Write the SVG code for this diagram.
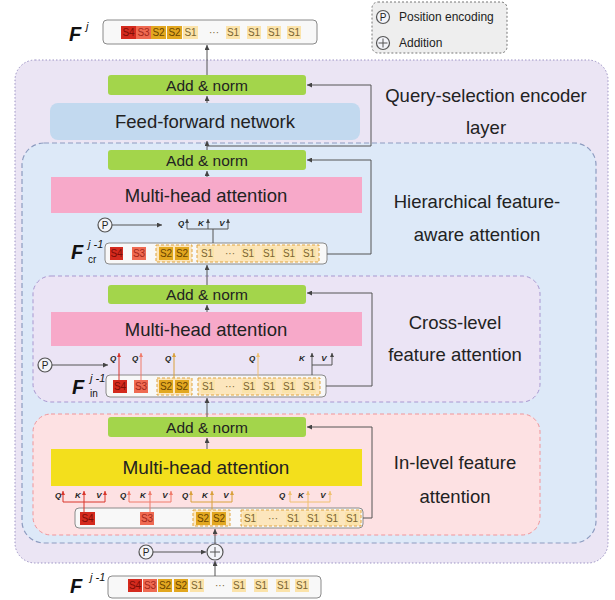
<svg xmlns="http://www.w3.org/2000/svg" width="615" height="600" viewBox="0 0 615 600">
<defs>
<style>
text{font-family:"Liberation Sans",Arial,sans-serif;fill:#222}
.big{font-size:18.5px;text-anchor:middle}
.an{font-size:15.5px;text-anchor:middle}
.mha{font-size:18.5px;text-anchor:middle}
.leg{font-size:12px}
.c{font-size:10px;text-anchor:middle}
.q{font-size:8px;font-style:italic;font-weight:bold;text-anchor:middle}
.F{font-size:20px;font-style:italic;font-weight:bold;fill:#111}
.sup{font-size:11px;font-style:italic;fill:#111}
.sub{font-size:10px;fill:#111}
.pc{font-size:10px;text-anchor:middle}
.row{fill:#f8f8f8;stroke:#8a8a8a;stroke-width:1}
.s4{fill:#d42a1e}.s3{fill:#ef6a52}.s2{fill:#e2a720}.s1{fill:#fbe3aa}
.t4{fill:#7d0d06}.t3{fill:#a3281a}.t2{fill:#6a4500}.t1{fill:#7a6530}
.grp{fill:#fce6bd;stroke:#e0a43e;stroke-width:1;stroke-dasharray:3 2}
.an-box{fill:#a3d54b}
.ln{fill:none;stroke:#555;stroke-width:1}
.circ{fill:#f3f4f9;stroke:#555;stroke-width:1.2}
</style>
<marker id="ah" viewBox="0 0 6 6" refX="6" refY="3" markerWidth="5" markerHeight="5" orient="auto" markerUnits="userSpaceOnUse"><path d="M0,0 L6,3 L0,6 z" fill="#444"/></marker>
<marker id="ahr" viewBox="0 0 6 6" refX="6" refY="3" markerWidth="4" markerHeight="4" orient="auto" markerUnits="userSpaceOnUse"><path d="M0,0 L6,3 L0,6 z" fill="#d9342b"/></marker>
<marker id="ahs" viewBox="0 0 6 6" refX="6" refY="3" markerWidth="4" markerHeight="4" orient="auto" markerUnits="userSpaceOnUse"><path d="M0,0 L6,3 L0,6 z" fill="#f07b6b"/></marker>
<marker id="aho" viewBox="0 0 6 6" refX="6" refY="3" markerWidth="4" markerHeight="4" orient="auto" markerUnits="userSpaceOnUse"><path d="M0,0 L6,3 L0,6 z" fill="#d9a03a"/></marker>
<marker id="ahl" viewBox="0 0 6 6" refX="6" refY="3" markerWidth="4" markerHeight="4" orient="auto" markerUnits="userSpaceOnUse"><path d="M0,0 L6,3 L0,6 z" fill="#f0c070"/></marker>
<marker id="ahk" viewBox="0 0 6 6" refX="6" refY="3" markerWidth="4" markerHeight="4" orient="auto" markerUnits="userSpaceOnUse"><path d="M0,0 L6,3 L0,6 z" fill="#444"/></marker>
</defs>

<g id="regions">
<rect x="15" y="60" width="593" height="503" rx="20" fill="#ebe5f4" stroke="#9c93c4" stroke-width="1" stroke-dasharray="1.5 2"/>
<rect x="22" y="143" width="574" height="400" rx="22" fill="#dde9f8" stroke="#8d9cc0" stroke-width="1.2" stroke-dasharray="5 3"/>
<rect x="33" y="276" width="507" height="126" rx="18" fill="#ebe4f5" stroke="#a897d0" stroke-width="1" stroke-dasharray="4 3"/>
<rect x="33" y="414" width="507" height="121" rx="18" fill="#fde1e3" stroke="#f0959a" stroke-width="1" stroke-dasharray="4 3"/>
<text class="big" x="486" y="102">Query-selection encoder</text>
<text class="big" x="486" y="134">layer</text>
<text class="big" x="477" y="208">Hierarchical feature-</text>
<text class="big" x="477" y="241">aware attention</text>
<text class="big" x="455" y="329">Cross-level</text>
<text class="big" x="455" y="361">feature attention</text>
<text class="big" x="455" y="469">In-level feature</text>
<text class="big" x="455" y="503">attention</text>
</g>

<g id="legend">
<rect x="372" y="2" width="135" height="51" rx="6" fill="#eeeeee" stroke="#777" stroke-width="1" stroke-dasharray="2 2"/>
<circle class="circ" cx="383" cy="17" r="6.5"/>
<text class="pc" x="383" y="20.5">P</text>
<text class="leg" x="399" y="21">Position encoding</text>
<circle class="circ" cx="383" cy="43" r="6.5"/>
<path class="ln" d="M378.5,43 H387.5 M383,38.5 V47.5" stroke="#333"/>
<text class="leg" x="399" y="47">Addition</text>
</g>

<g id="Fj">
<text class="F" x="69" y="41">F</text><text class="sup" x="86" y="30">j</text>
<rect class="row" x="103" y="20" width="214" height="24" rx="4"/>
<rect class="s4" x="121" y="26" width="15" height="13"/><text class="c t4" x="128.5" y="36">S4</text>
<rect class="s3" x="136" y="26" width="15" height="13"/><text class="c t3" x="143.5" y="36">S3</text>
<rect class="s2" x="151" y="26" width="15" height="13"/><text class="c t2" x="158.5" y="36">S2</text>
<rect class="s2" x="167" y="26" width="15" height="13"/><text class="c t2" x="174.5" y="36">S2</text>
<rect class="s1" x="183" y="26" width="15" height="13"/><text class="c t1" x="190.5" y="36">S1</text>
<text class="c t1" x="214" y="36">···</text>
<rect class="s1" x="226" y="26" width="14" height="13"/><text class="c t1" x="233" y="36">S1</text>
<rect class="s1" x="247" y="26" width="14" height="13"/><text class="c t1" x="254" y="36">S1</text>
<rect class="s1" x="267" y="26" width="14" height="13"/><text class="c t1" x="274" y="36">S1</text>
<rect class="s1" x="287" y="26" width="14" height="13"/><text class="c t1" x="294" y="36">S1</text>
</g>

<g id="addnorm-top"><rect class="an-box" x="108" y="75" width="198" height="20" rx="3"/><text class="an" x="207" y="90.5">Add &amp; norm</text></g>
<g id="ffn"><rect x="50" y="103" width="310" height="37" rx="8" fill="#c2d9ef"/><text class="mha" x="205" y="128">Feed-forward network</text></g>

<g id="addnorm-hier"><rect class="an-box" x="108" y="150" width="198" height="20" rx="3"/><text class="an" x="207" y="165.5">Add &amp; norm</text></g>
<g id="mha-hier"><rect x="51" y="177" width="311" height="36" fill="#f7a9c9"/><text class="mha" x="206" y="202">Multi-head attention</text></g>

<g id="Fcr">
<text class="F" x="71" y="259">F</text><text class="sup" x="88" y="248">j -1</text><text class="sub" x="88" y="263">cr</text>
<rect class="row" x="105" y="243" width="222" height="21" rx="4"/>
<rect class="s4" x="110" y="247" width="13" height="13"/><text class="c t4" x="116.5" y="257">S4</text>
<rect class="s3" x="132" y="247" width="14" height="13"/><text class="c t3" x="139" y="257">S3</text>
<rect class="grp" x="156" y="245" width="36" height="17"/>
<rect class="s2" x="159" y="247" width="14" height="13"/><text class="c t2" x="166" y="257">S2</text>
<rect class="s2" x="175" y="247" width="14" height="13"/><text class="c t2" x="182" y="257">S2</text>
<rect class="grp" x="197" y="245" width="122" height="17"/>
<rect class="s1" x="200" y="247" width="14" height="13"/><text class="c t1" x="207" y="257">S1</text>
<text class="c t1" x="230" y="257">···</text>
<rect class="s1" x="241" y="247" width="14" height="13"/><text class="c t1" x="248" y="257">S1</text>
<rect class="s1" x="262" y="247" width="14" height="13"/><text class="c t1" x="269" y="257">S1</text>
<rect class="s1" x="282" y="247" width="14" height="13"/><text class="c t1" x="289" y="257">S1</text>
<rect class="s1" x="302" y="247" width="14" height="13"/><text class="c t1" x="309" y="257">S1</text>
</g>
<g id="P-hier"><circle class="circ" cx="105" cy="225" r="7"/><text class="pc" x="105" y="228.5">P</text></g>

<g id="addnorm-cross"><rect class="an-box" x="108" y="285" width="198" height="19" rx="3"/><text class="an" x="207" y="300">Add &amp; norm</text></g>
<g id="mha-cross"><rect x="51" y="312" width="311" height="34" fill="#f7a9c9"/><text class="mha" x="206" y="336">Multi-head attention</text></g>

<g id="Fin">
<text class="F" x="72" y="394">F</text><text class="sup" x="90" y="382">j -1</text><text class="sub" x="90" y="397">in</text>
<rect class="row" x="106" y="375" width="220" height="22" rx="4"/>
<rect class="s4" x="113" y="380" width="14" height="13"/><text class="c t4" x="120" y="390">S4</text>
<rect class="s3" x="134" y="380" width="14" height="13"/><text class="c t3" x="141" y="390">S3</text>
<rect class="grp" x="157" y="378" width="35" height="17"/>
<rect class="s2" x="159" y="380" width="14" height="13"/><text class="c t2" x="166" y="390">S2</text>
<rect class="s2" x="175" y="380" width="14" height="13"/><text class="c t2" x="182" y="390">S2</text>
<rect class="grp" x="198" y="378" width="122" height="17"/>
<rect class="s1" x="201" y="380" width="14" height="13"/><text class="c t1" x="208" y="390">S1</text>
<text class="c t1" x="230" y="390">···</text>
<rect class="s1" x="242" y="380" width="14" height="13"/><text class="c t1" x="249" y="390">S1</text>
<rect class="s1" x="262" y="380" width="14" height="13"/><text class="c t1" x="269" y="390">S1</text>
<rect class="s1" x="282" y="380" width="14" height="13"/><text class="c t1" x="289" y="390">S1</text>
<rect class="s1" x="302" y="380" width="14" height="13"/><text class="c t1" x="309" y="390">S1</text>
</g>
<g id="P-cross"><circle class="circ" cx="45" cy="365" r="7"/><text class="pc" x="45" y="368.5">P</text></g>

<g id="addnorm-in"><rect class="an-box" x="108" y="417" width="198" height="20" rx="3"/><text class="an" x="207" y="432.5">Add &amp; norm</text></g>
<g id="mha-in"><rect x="51" y="449" width="311" height="37" fill="#f3df1c"/><text class="mha" x="206" y="474" style="font-size:19px">Multi-head attention</text></g>

<g id="Fin-level">
<rect class="row" x="75" y="508" width="288" height="20" rx="4"/>
<rect class="s4" x="80" y="512" width="15" height="13"/><text class="c t4" x="87.5" y="522">S4</text>
<rect class="s3" x="140" y="512" width="14" height="13"/><text class="c t3" x="147" y="522">S3</text>
<rect class="grp" x="193" y="510" width="37" height="16"/>
<rect class="s2" x="196" y="512" width="14" height="13"/><text class="c t2" x="203" y="522">S2</text>
<rect class="s2" x="212" y="512" width="14" height="13"/><text class="c t2" x="219" y="522">S2</text>
<rect class="grp" x="241" y="510" width="120" height="16"/>
<rect class="s1" x="243" y="512" width="14" height="13"/><text class="c t1" x="250" y="522">S1</text>
<text class="c t1" x="273" y="522">···</text>
<rect class="s1" x="286" y="512" width="14" height="13"/><text class="c t1" x="293" y="522">S1</text>
<rect class="s1" x="306" y="512" width="14" height="13"/><text class="c t1" x="313" y="522">S1</text>
<rect class="s1" x="325" y="512" width="14" height="13"/><text class="c t1" x="332" y="522">S1</text>
<rect class="s1" x="345" y="512" width="14" height="13"/><text class="c t1" x="352" y="522">S1</text>
</g>

<g id="P-bottom"><circle class="circ" cx="146" cy="552" r="7"/><text class="pc" x="146" y="555.5">P</text></g>
<g id="add-bottom"><circle class="circ" cx="215" cy="552" r="8"/><path class="ln" d="M210,552 H220 M215,547 V557" stroke="#333"/></g>

<g id="Fj1">
<text class="F" x="70" y="593">F</text><text class="sup" x="90" y="581">j -1</text>
<rect class="row" x="108" y="576" width="213" height="22" rx="4"/>
<rect class="s4" x="128" y="579" width="14" height="13"/><text class="c t4" x="135" y="589">S4</text>
<rect class="s3" x="143" y="579" width="14" height="13"/><text class="c t3" x="150" y="589">S3</text>
<rect class="s2" x="158" y="579" width="14" height="13"/><text class="c t2" x="165" y="589">S2</text>
<rect class="s2" x="174" y="579" width="14" height="13"/><text class="c t2" x="181" y="589">S2</text>
<rect class="s1" x="190" y="579" width="14" height="13"/><text class="c t1" x="197" y="589">S1</text>
<text class="c t1" x="220" y="589">···</text>
<rect class="s1" x="232" y="579" width="14" height="13"/><text class="c t1" x="239" y="589">S1</text>
<rect class="s1" x="254" y="579" width="14" height="13"/><text class="c t1" x="261" y="589">S1</text>
<rect class="s1" x="276" y="579" width="14" height="13"/><text class="c t1" x="283" y="589">S1</text>
<rect class="s1" x="295" y="579" width="14" height="13"/><text class="c t1" x="302" y="589">S1</text>
</g>

<g id="connectors">
<path class="ln" d="M207,75 V45" marker-end="url(#ah)"/>
<path class="ln" d="M207,103 V96" marker-end="url(#ah)"/>
<path class="ln" d="M207,150 V141" marker-end="url(#ah)"/>
<path class="ln" d="M207,177 V171" marker-end="url(#ah)"/>
<path class="ln" d="M207,285 V265" marker-end="url(#ah)"/>
<path class="ln" d="M207,312 V305" marker-end="url(#ah)"/>
<path class="ln" d="M207,417 V398" marker-end="url(#ah)"/>
<path class="ln" d="M207,449 V438" marker-end="url(#ah)"/>
<path class="ln" d="M215,544 V529" marker-end="url(#ah)"/>
<path class="ln" d="M215,576 V561" marker-end="url(#ah)"/>
<path class="ln" d="M153,552 H206" marker-end="url(#ah)"/>
<path class="ln" d="M207,146 H371 V85 H307" marker-end="url(#ah)"/>
<path class="ln" d="M327,254 H371 V160 H307" marker-end="url(#ah)"/>
<path class="ln" d="M326,386 H372 V293 H307" marker-end="url(#ah)"/>
<path class="ln" d="M363,518 H372 V427 H307" marker-end="url(#ah)"/>
<!-- hierarchical QKV -->
<path class="ln" d="M112,225 H162" marker-end="url(#ah)"/>
<path class="ln" d="M213,243 V229"/>
<path class="ln" d="M187,229 H228"/>
<path class="ln" d="M187,229 V219" marker-end="url(#ahk)"/>
<path class="ln" d="M208,229 V219" marker-end="url(#ahk)"/>
<path class="ln" d="M228,229 V219" marker-end="url(#ahk)"/>
<!-- cross-level -->
<path class="ln" d="M52,365 H108" marker-end="url(#ah)"/>
<path d="M119,380 V353" stroke="#d9342b" stroke-width="1" fill="none" marker-end="url(#ahr)"/>
<path d="M141,380 V353" stroke="#f07b6b" stroke-width="1" fill="none" marker-end="url(#ahs)"/>
<path d="M174,378 V353" stroke="#d9a03a" stroke-width="1" fill="none" marker-end="url(#aho)"/>
<path d="M258,378 V353" stroke="#f0c070" stroke-width="1" fill="none" marker-end="url(#ahl)"/>
<path class="ln" d="M312,375 V353" marker-end="url(#ahk)"/>
<path class="ln" d="M312,365 H332"/>
<path class="ln" d="M332,365 V353" marker-end="url(#ahk)"/>
<!-- in-level groups -->
<g stroke="#d9342b" stroke-width="1" fill="none">
<path d="M63,502 H105 M84,502 V512"/>
<path d="M63,502 V491" marker-end="url(#ahr)"/><path d="M84,502 V491" marker-end="url(#ahr)"/><path d="M105,502 V491" marker-end="url(#ahr)"/>
</g>
<g stroke="#f07b6b" stroke-width="1" fill="none">
<path d="M129,502 H171 M150,502 V512"/>
<path d="M129,502 V491" marker-end="url(#ahs)"/><path d="M150,502 V491" marker-end="url(#ahs)"/><path d="M171,502 V491" marker-end="url(#ahs)"/>
</g>
<g stroke="#d9a03a" stroke-width="1" fill="none">
<path d="M191,502 H232 M212,502 V510"/>
<path d="M191,502 V491" marker-end="url(#aho)"/><path d="M212,502 V491" marker-end="url(#aho)"/><path d="M232,502 V491" marker-end="url(#aho)"/>
</g>
<g stroke="#f0c070" stroke-width="1" fill="none">
<path d="M290,502 H330 M308,502 V510"/>
<path d="M290,502 V491" marker-end="url(#ahl)"/><path d="M308,502 V491" marker-end="url(#ahl)"/><path d="M330,502 V491" marker-end="url(#ahl)"/>
</g>
</g>

<g id="qkv-labels">
<text class="q" x="181" y="226">Q</text><text class="q" x="201" y="226">K</text><text class="q" x="222" y="226">V</text>
<text class="q" x="113" y="361">Q</text><text class="q" x="135" y="361">Q</text><text class="q" x="168" y="361">Q</text><text class="q" x="252" y="361">Q</text>
<text class="q" x="302" y="361">K</text><text class="q" x="324" y="361">V</text>
<text class="q" x="58" y="498">Q</text><text class="q" x="78" y="498">K</text><text class="q" x="99" y="498">V</text>
<text class="q" x="123" y="498">Q</text><text class="q" x="143" y="498">K</text><text class="q" x="165" y="498">V</text>
<text class="q" x="185" y="498">Q</text><text class="q" x="205" y="498">K</text><text class="q" x="226" y="498">V</text>
<text class="q" x="282" y="498">Q</text><text class="q" x="301" y="498">K</text><text class="q" x="323" y="498">V</text>
</g>
</svg>
